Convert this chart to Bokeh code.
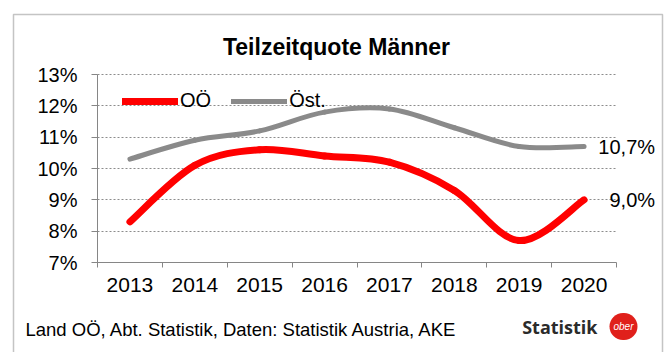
from bokeh.plotting import figure
from bokeh.models import (FixedTicker, Range1d, Legend, LegendItem, Label,
                          BoxAnnotation, ColumnDataSource)
from bokeh.embed import file_html
from bokeh.resources import INLINE

# Teilzeitquote Männer (in %), Oberösterreich vs. Österreich
years = ["2013", "2014", "2015", "2016", "2017", "2018", "2019", "2020"]
ooe = [8.3, 10.1, 10.6, 10.4, 10.2, 9.3, 7.7, 9.0]
oest = [10.3, 10.9, 11.2, 11.8, 11.9, 11.3, 10.7, 10.7]
y_ticks = [7, 8, 9, 10, 11, 12, 13]

FONT = "Liberation Sans"
W, H = 668, 352
# plot area in canvas pixels (the frame itself fills the whole canvas)
AREA_L, AREA_R, AREA_T, AREA_B = 97, 616, 74, 262

x_lo, x_hi = -0.5, len(years) - 0.5
y_lo, y_hi = y_ticks[0], y_ticks[-1]
kx = (AREA_R - AREA_L) / (x_hi - x_lo)
ky = (AREA_B - AREA_T) / (y_hi - y_lo)


def smooth_segments(ys):
    """Cubic Bezier segments (Catmull-Rom style) through the data points."""
    xs = list(range(len(ys)))
    n = len(ys)
    d = dict(x0=[], y0=[], x1=[], y1=[], cx0=[], cy0=[], cx1=[], cy1=[])
    for i in range(n - 1):
        a = max(i - 1, 0)
        b = min(i + 2, n - 1)
        d["x0"].append(xs[i]); d["y0"].append(ys[i])
        d["x1"].append(xs[i + 1]); d["y1"].append(ys[i + 1])
        d["cx0"].append(xs[i] + (xs[i + 1] - xs[a]) / 6)
        d["cy0"].append(ys[i] + (ys[i + 1] - ys[a]) / 6)
        d["cx1"].append(xs[i + 1] - (xs[b] - xs[i]) / 6)
        d["cy1"].append(ys[i + 1] - (ys[b] - ys[i]) / 6)
    return ColumnDataSource(d)


def sy(cy):
    # screen units count upwards from the bottom of the frame
    return H - cy


p = figure(width=W, height=H, output_backend="svg", toolbar_location=None,
           x_range=Range1d(x_lo - AREA_L / kx, x_hi + (W - AREA_R) / kx),
           y_range=Range1d(y_lo - (H - AREA_B) / ky, y_hi + AREA_T / ky),
           min_border_left=0, min_border_right=0, min_border_top=0,
           min_border_bottom=0)
p.outline_line_color = None
p.background_fill_color = "white"
p.border_fill_color = "white"

# x axis: labels at category centres, tick marks between categories
p.xaxis.fixed_location = y_lo
p.xaxis.bounds = (x_lo, x_hi)
p.xaxis.ticker = FixedTicker(ticks=list(range(len(years))),
                             minor_ticks=[i - 0.5 for i in range(len(years) + 1)])
p.xaxis.major_label_overrides = {i: y for i, y in enumerate(years)}
p.xaxis.major_tick_out = 0
p.xaxis.major_tick_in = 0
p.xaxis.minor_tick_out = 5
p.xaxis.minor_tick_in = 0
p.xaxis.minor_tick_line_color = "#868686"
p.xaxis.axis_line_color = "#868686"
p.xaxis.major_label_standoff = 10
p.xaxis.major_label_text_font_size = "21px"

p.yaxis.fixed_location = x_lo
p.yaxis.bounds = (y_lo, y_hi)
p.yaxis.ticker = FixedTicker(ticks=y_ticks, minor_ticks=[])
p.yaxis.major_label_overrides = {t: f"{t}%" for t in y_ticks}
p.yaxis.major_tick_out = 6
p.yaxis.major_tick_in = 0
p.yaxis.major_tick_line_color = "#868686"
p.yaxis.axis_line_color = "#868686"
p.yaxis.major_label_standoff = 14
p.yaxis.major_label_text_font_size = "20px"

for ax in (p.xaxis, p.yaxis):
    ax.major_label_text_font = FONT
    ax.major_label_text_color = "black"

p.xgrid.grid_line_color = None
p.ygrid.grid_line_color = "#8c8c8c"
p.ygrid.grid_line_dash = "2 2"
p.ygrid.grid_line_width = 1
p.ygrid.bounds = (y_lo, y_hi)
p.ygrid.cross_bounds = (x_lo, x_hi)

r_oest = p.bezier(x0="x0", y0="y0", x1="x1", y1="y1", cx0="cx0", cy0="cy0",
                  cx1="cx1", cy1="cy1", source=smooth_segments(oest),
                  line_color="#8a8a8a", line_width=5, line_cap="round")
r_ooe = p.bezier(x0="x0", y0="y0", x1="x1", y1="y1", cx0="cx0", cy0="cy0",
                 cx1="cx1", cy1="cy1", source=smooth_segments(ooe),
                 line_color="#ff0000", line_width=7, line_cap="round")

# value labels at the last year
last = len(years) - 1
for v in (oest[-1], ooe[-1]):
    p.add_layout(Label(x=last, y=v, x_offset=71, text=f"{v:.1f}%".replace(".", ","),
                       text_font=FONT, text_font_size="20px", text_align="right",
                       text_baseline="middle", text_color="black"))

legend = Legend(items=[LegendItem(label="OÖ", renderers=[r_ooe]),
                       LegendItem(label="Öst.", renderers=[r_oest])],
                orientation="horizontal", location=(122, sy(112)),
                background_fill_alpha=0, border_line_color=None,
                glyph_width=56, glyph_height=16, label_standoff=2,
                spacing=20, padding=0, margin=0,
                label_text_font=FONT, label_text_font_size="20px",
                label_text_color="black")
p.add_layout(legend, "center")

p.add_layout(Label(x=336, y=sy(46), x_units="screen", y_units="screen",
                   text="Teilzeitquote Männer", text_font=FONT,
                   text_font_size="23px", text_font_style="bold",
                   text_align="center", text_baseline="middle",
                   text_color="black"))

p.add_layout(Label(x=25, y=sy(329), x_units="screen", y_units="screen",
                   text="Land OÖ, Abt. Statistik, Daten: Statistik Austria, AKE",
                   text_font=FONT, text_font_size="18.5px",
                   text_baseline="middle", text_color="black"))

p.add_layout(Label(x=597, y=sy(326), x_units="screen", y_units="screen",
                   text="Statistik", text_font="Open Sans", text_font_size="18px",
                   text_font_style="bold", text_align="right",
                   text_baseline="middle", text_color="#2b2b2b"))

p.add_layout(Label(x=623, y=sy(326), x_units="screen", y_units="screen",
                   text="ober", text_font=FONT, text_font_size="10px",
                   text_font_style="italic", text_align="center",
                   text_baseline="middle", text_color="white",
                   background_fill_color="#e0201b", border_radius=14,
                   padding=(4, 8)))

p.add_layout(BoxAnnotation(left=13, right=662, top=sy(14), bottom=sy(420),
                           left_units="screen", right_units="screen",
                           top_units="screen", bottom_units="screen",
                           fill_alpha=0, line_color="#3a3a3a", line_width=1.5))

open("out.html", "w").write(file_html(p, INLINE))
